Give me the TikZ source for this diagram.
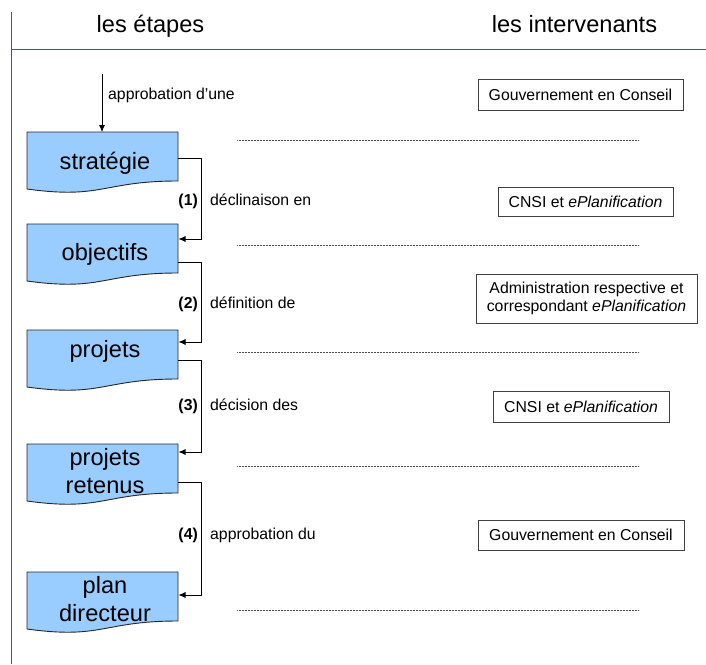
\documentclass[tikz,border=0pt]{standalone}
\usepackage{fontspec}
\setmainfont{Liberation Sans}
\usetikzlibrary{arrows.meta}
\definecolor{frameblue}{RGB}{75,75,175}
\definecolor{docblue}{RGB}{153,204,255}
\newcommand\docpath[1]{%
  \path[docbox] (27,#1) -- (178,#1) -- (178,#1+49)
    .. controls (102.5,#1+49) and (102.5,#1+67.5) .. (27,#1+57) -- cycle;}
\begin{document}
\begin{tikzpicture}[x=1pt,y=-1pt,
  docbox/.style={fill=docblue,draw=black!85,line width=0.9pt},
  big/.style={font=\fontsize{23.6}{28}\selectfont},
  small/.style={font=\fontsize{15.8}{17.5}\selectfont},
  flow/.style={draw=black,line width=0.8pt,-{Latex[length=7pt,width=6pt]}},
  sep/.style={draw=black!70,line width=0.6pt,dash pattern=on 0.6pt off 0.9pt},
  frameline/.style={draw=frameblue,line width=1pt},
  actor/.style={draw=black!75,line width=0.9pt,inner sep=0pt,small,align=center},
]
\useasboundingbox (0,0) rectangle (706,664);
% frame
\draw[frameline] (11.5,12) -- (11.5,664);
\draw[frameline] (11.5,49.3) -- (706,49.3);
% headers
\node[big,anchor=base] (h1) at (150.5,32) {les étapes};
\node[big,anchor=base] (h2) at (574.5,32) {les intervenants};
% document shapes
\docpath{132}
\docpath{224}
\docpath{330}
\docpath{444}
\docpath{572}
\node[big,anchor=base] (strat) at (105,169) {stratégie};
\node[big,anchor=base] (obj) at (105,260) {objectifs};
\node[big,anchor=base] (proj) at (105,357) {projets};
\node[big,anchor=base,align=center] (ret) at (105,493) {projets\\retenus};
\node[big,anchor=base,align=center] (plan) at (105,621) {plan\\directeur};
% connector coordinates
\coordinate (start) at (102,74);
\coordinate (stratin) at (102,132);
\coordinate (stratout) at (178,158);
\coordinate (objin) at (178.5,239);
\coordinate (objout) at (178,262);
\coordinate (projin) at (178.5,342);
\coordinate (projout) at (178,360);
\coordinate (retin) at (178.5,452);
\coordinate (retout) at (178,482);
\coordinate (planin) at (178.5,595);
\draw[flow] (start) -- (stratin);
\draw[flow] (stratout) -- ++(23.5,0) |- (objin);
\draw[flow] (objout) -- ++(23.5,0) |- (projin);
\draw[flow] (projout) -- ++(23.5,0) |- (retin);
\draw[flow] (retout) -- ++(23.5,0) |- (planin);
% labels
\node[small,anchor=base west,inner sep=0pt] (l0) at (108,99) {approbation d’une};
\node[small,anchor=base east,inner sep=0pt] (n1) at (198,205) {\textbf{(1)}};
\node[small,anchor=base west,inner sep=0pt] (l1) at (210,205) {déclinaison en};
\node[small,anchor=base east,inner sep=0pt] (n2) at (198,308) {\textbf{(2)}};
\node[small,anchor=base west,inner sep=0pt] (l2) at (210,308) {définition de};
\node[small,anchor=base east,inner sep=0pt] (n3) at (198,410) {\textbf{(3)}};
\node[small,anchor=base west,inner sep=0pt] (l3) at (210,410) {décision des};
\node[small,anchor=base east,inner sep=0pt] (n4) at (198,539) {\textbf{(4)}};
\node[small,anchor=base west,inner sep=0pt] (l4) at (210,539) {approbation du};
% separators
\foreach \yy in {140,245,352,466,610} \draw[sep] (237,\yy) -- (639,\yy);
% actors
\node[actor,minimum width=205pt,minimum height=31pt] (a1) at (580.5,94.5) {Gouvernement en Conseil};
\node[actor,minimum width=175pt,minimum height=29pt] (a2) at (585.5,201.5) {CNSI et \textit{ePlanification}};
\node[actor,minimum width=221pt,minimum height=49pt] (a3) at (586.5,298.5) {Administration respective et\\correspondant \textit{ePlanification}};
\node[actor,minimum width=176pt,minimum height=31pt] (a4) at (581,406.5) {CNSI et \textit{ePlanification}};
\node[actor,minimum width=206pt,minimum height=30pt] (a5) at (581,535) {Gouvernement en Conseil};
\end{tikzpicture}
\end{document}
